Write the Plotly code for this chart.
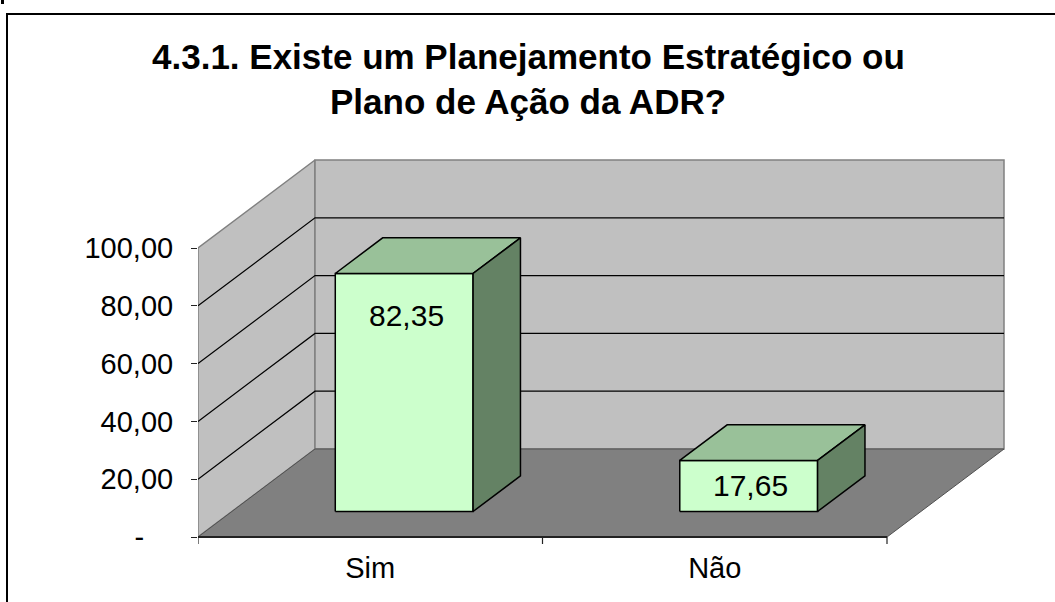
import plotly.graph_objects as go

# ---- data -------------------------------------------------------------
categories = ["Sim", "Não"]
values = [82.35, 17.65]
value_labels = ["82,35", "17,65"]
y_ticks = [0, 20, 40, 60, 80, 100]
y_tick_labels = ["-\u2003", "20,00", "40,00", "60,00", "80,00", "100,00"]
title_lines = ["4.3.1. Existe um Planejamento Estratégico ou",
               "Plano de Ação da ADR?"]

# ---- page / plot-area geometry (pixels) -------------------------------
W, H = 1055, 602
PLOT_L, PLOT_R, PLOT_T, PLOT_B = 198, 1010, 155, 546
PX_PER_CAT = 344.5          # horizontal pixels per category on the front plane
PX_PER_VAL = 2.89           # vertical pixels per value unit
ZERO_PX = 537               # pixel row of value 0 on the front plane

X_RANGE = [0, (PLOT_R - PLOT_L) / PX_PER_CAT]
Y_RANGE = [-(PLOT_B - ZERO_PX) / PX_PER_VAL, (ZERO_PX - PLOT_T) / PX_PER_VAL]

# oblique 3-D projection: a full step in depth moves right and up
DEPTH_DX = 117 / PX_PER_CAT
DEPTH_DY = 88 / PX_PER_VAL
WALL_TOP = 100
N_CAT = len(categories)
BAR_HALF = 0.2               # half bar width in category units
BAR_D0, BAR_D1 = 0.29, 0.695  # bar front / back depth

FONT = "Arial, Liberation Sans, sans-serif"
WALL = "#C0C0C0"
FLOOR = "#808080"
EDGE = "#808080"
BAR_FRONT = "#CCFFCC"
BAR_TOP = "#99C199"
BAR_SIDE = "#648264"


def proj(u, v, d):
    return u + d * DEPTH_DX, v + d * DEPTH_DY


def poly(points, fill, line_color, line_width):
    xs = [p[0] for p in points] + [points[0][0]]
    ys = [p[1] for p in points] + [points[0][1]]
    return go.Scatter(x=xs, y=ys, mode="lines", fill="toself",
                      fillcolor=fill,
                      line=dict(color=line_color, width=line_width),
                      hoverinfo="skip", showlegend=False)


def line(points, color, width):
    return go.Scatter(x=[p[0] for p in points], y=[p[1] for p in points],
                      mode="lines", line=dict(color=color, width=width),
                      hoverinfo="skip", showlegend=False)


fig = go.Figure()

# side wall (left)
fig.add_trace(poly([proj(0, 0, 0), proj(0, 0, 1), proj(0, WALL_TOP, 1),
                    proj(0, WALL_TOP, 0)], WALL, EDGE, 1.5))
# back wall
fig.add_trace(poly([proj(0, 0, 1), proj(N_CAT, 0, 1), proj(N_CAT, WALL_TOP, 1),
                    proj(0, WALL_TOP, 1)], WALL, EDGE, 1.5))
# floor
fig.add_trace(poly([proj(0, 0, 0), proj(N_CAT, 0, 0), proj(N_CAT, 0, 1),
                    proj(0, 0, 1)], FLOOR, "#505050", 1))

# major gridlines across side and back walls
for t in y_ticks[1:-1]:
    fig.add_trace(line([proj(0, t, 0), proj(0, t, 1), proj(N_CAT, t, 1)],
                       "#000000", 1.2))

# category axis line and tick marks
fig.add_trace(line([proj(0, 0, 0), proj(N_CAT, 0, 0)], "#222222", 2.2))
tick_len = 7 / PX_PER_VAL
for k in range(N_CAT + 1):
    fig.add_trace(line([(k, 0), (k, -tick_len)], "#222222", 1.2))

# bars
for i, (val, lab) in enumerate(zip(values, value_labels)):
    uc = i + 0.5
    ul, ur = uc - BAR_HALF, uc + BAR_HALF
    front = [proj(ul, 0, BAR_D0), proj(ur, 0, BAR_D0),
             proj(ur, val, BAR_D0), proj(ul, val, BAR_D0)]
    top = [proj(ul, val, BAR_D0), proj(ur, val, BAR_D0),
           proj(ur, val, BAR_D1), proj(ul, val, BAR_D1)]
    side = [proj(ur, 0, BAR_D0), proj(ur, 0, BAR_D1),
            proj(ur, val, BAR_D1), proj(ur, val, BAR_D0)]
    fig.add_trace(poly(front, BAR_FRONT, "#000000", 1.5))
    fig.add_trace(poly(top, BAR_TOP, "#000000", 1.5))
    fig.add_trace(poly(side, BAR_SIDE, "#000000", 1.5))

    # value label inside the top end of the front face
    lx, ly = proj(uc, max(val - 14.5, val / 2), BAR_D0)
    fig.add_annotation(x=lx, y=ly, text=lab, showarrow=False,
                       xanchor="center", yanchor="middle", xshift=2,
                       font=dict(family=FONT, size=30, color="#000000"))


def paper_x(px):
    return (px - PLOT_L) / (PLOT_R - PLOT_L)


def paper_y(py):
    return (PLOT_B - py) / (PLOT_B - PLOT_T)


# title
for txt, cy in zip(title_lines, [57, 101]):
    fig.add_annotation(x=paper_x(528), y=paper_y(cy), xref="paper",
                       yref="paper", text="<b>%s</b>" % txt, showarrow=False,
                       xanchor="center", yanchor="middle",
                       font=dict(family=FONT, size=35, color="#000000"))

# chart frame
fig.add_shape(type="rect", xref="paper", yref="paper",
              x0=paper_x(7), x1=paper_x(W + 10), y0=paper_y(H + 10),
              y1=paper_y(14), line=dict(color="#000000", width=2),
              fillcolor="rgba(0,0,0,0)", layer="above")
fig.add_shape(type="rect", xref="paper", yref="paper",
              x0=paper_x(1), x1=paper_x(4), y0=paper_y(4), y1=paper_y(0),
              line=dict(width=0), fillcolor="#000000")

fig.update_layout(
    width=W, height=H,
    margin=dict(l=PLOT_L, r=W - PLOT_R, t=PLOT_T, b=H - PLOT_B),
    paper_bgcolor="#FFFFFF", plot_bgcolor="rgba(0,0,0,0)",
    showlegend=False,
    font=dict(family=FONT, size=29, color="#000000"),
    xaxis=dict(range=X_RANGE, showgrid=False, zeroline=False, showline=False,
               tickmode="array",
               tickvals=[i + 0.5 for i in range(N_CAT)], ticktext=categories,
               ticks="", ticklabelstandoff=2, fixedrange=True),
    yaxis=dict(range=Y_RANGE, showgrid=False, zeroline=False, showline=False,
               tickmode="array", tickvals=y_ticks, ticktext=y_tick_labels,
               ticks="outside", ticklen=6, tickwidth=1.2, tickcolor="#222222",
               ticklabelstandoff=12, fixedrange=True),
)

fig.write_html("out.html")
